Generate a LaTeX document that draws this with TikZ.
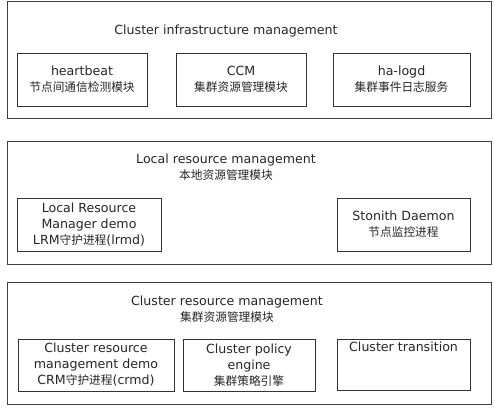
\documentclass[tikz,border=0pt]{standalone}
\usepackage{fontspec}
\setmainfont{DejaVu Sans}
\newfontfamily\cjk{Noto Sans CJK SC}
\newcommand{\zh}[1]{{\cjk\fontsize{11.7}{16}\selectfont #1}}
\begin{document}
\begin{tikzpicture}[x=1pt,y=-1pt,
  outer/.style={draw=black!75,line width=0.9pt},
  inner/.style={draw=black!80,line width=0.9pt,rectangle,inner sep=0pt,align=center,
     font=\fontsize{12.6}{16}\selectfont,text=black!85},
  title/.style={font=\fontsize{12.6}{16}\selectfont,align=center,text=black!85}]
\useasboundingbox[fill=white] (0,0) rectangle (495,410);
% top group
\draw[outer] (7,1) rectangle (491,118);
\node[title] (t1) at (226,31) {Cluster infrastructure management};
\node[inner,minimum width=130pt,minimum height=53pt] (hb) at (82,79.5) {heartbeat\\\zh{节点间通信检测模块}};
\node[inner,minimum width=130pt,minimum height=53pt] (ccm) at (241,79.5) {CCM\\\zh{集群资源管理模块}};
\node[inner,minimum width=137pt,minimum height=53pt] (hal) at (401.5,79.5) {ha-logd\\\zh{集群事件日志服务}};
% middle group
\draw[outer] (7,141) rectangle (491,264);
\node[title] (t2) at (226,167) {Local resource management\\\zh{本地资源管理模块}};
\node[inner,minimum width=144pt,minimum height=53pt] (lrm) at (89,224.5) {Local Resource\\Manager demo\\LRM\zh{守护进程}(lrmd)};
\node[inner,minimum width=133pt,minimum height=53pt] (st) at (403.5,224.5) {Stonith Daemon\\\zh{节点监控进程}};
% bottom group
\draw[outer] (7,282) rectangle (491,404);
\node[title] (t3) at (227,309.5) {Cluster resource management\\\zh{集群资源管理模块}};
\node[inner,minimum width=156pt,minimum height=52pt] (crm) at (96,365) {Cluster resource\\management demo\\CRM\zh{守护进程}(crmd)};
\node[inner,minimum width=132pt,minimum height=52pt] (pe) at (249,365) {Cluster policy\\engine\\\zh{集群策略引擎}};
\node[inner,minimum width=133pt,minimum height=51pt] (te) at (403.5,364.5) {};
\node[font=\fontsize{12.6}{16}\selectfont,text=black!85,anchor=north west,inner sep=0pt] (tet) at (349,342) {Cluster transition};
\end{tikzpicture}
\end{document}
